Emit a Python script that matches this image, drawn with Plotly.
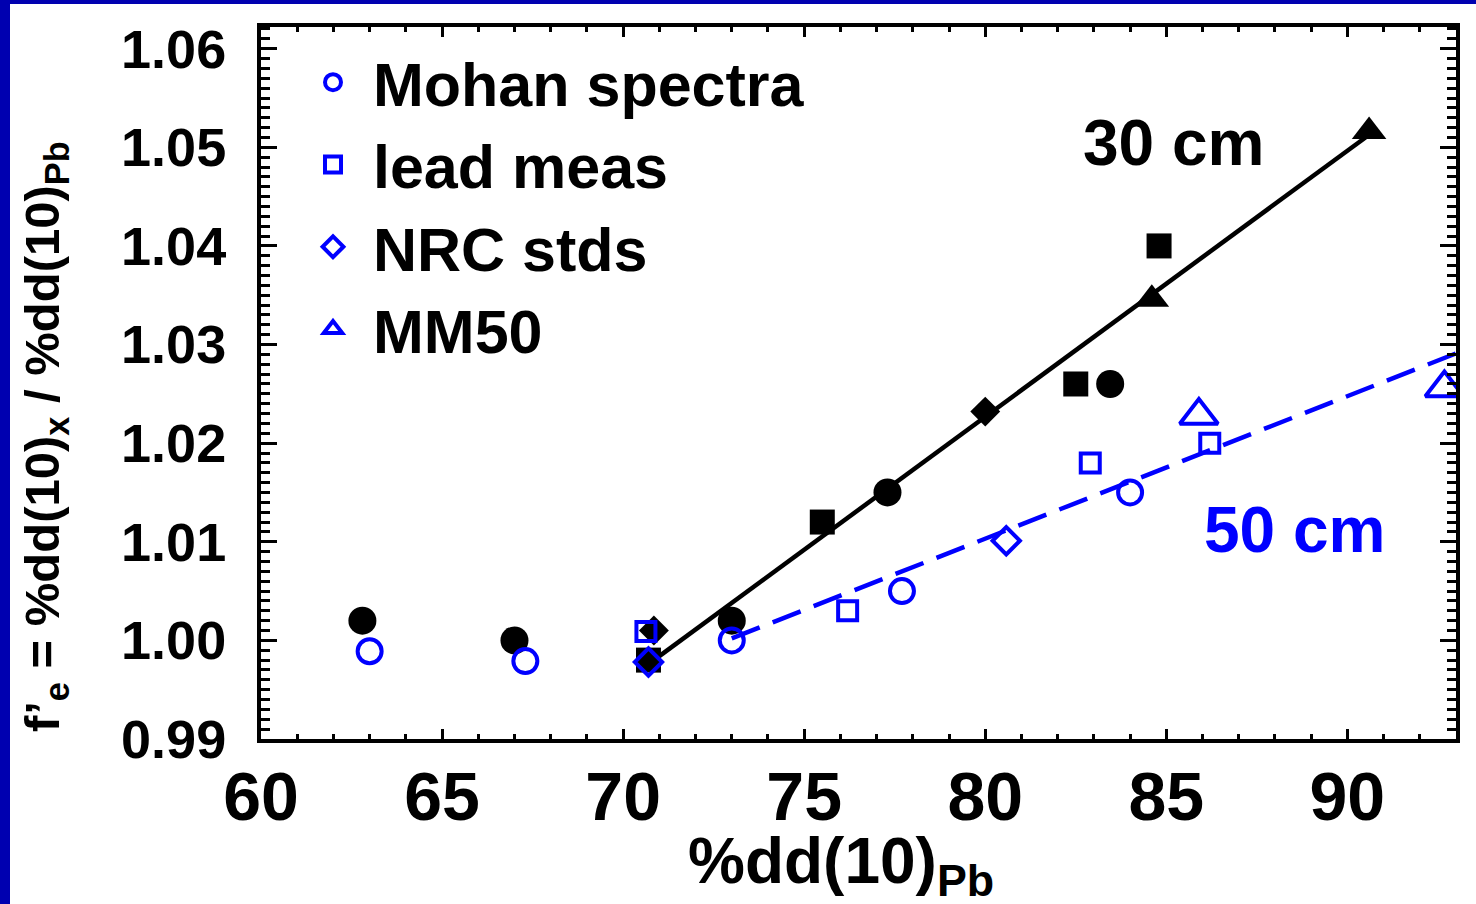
import plotly.graph_objects as go

# ---- data ----
# 30 cm (black, filled)
c30_x = [62.8, 67.0, 73.0, 77.3, 83.45]
c30_y = [1.0020, 1.0000, 1.0020, 1.0150, 1.0260]
s30_x = [70.7, 75.5, 82.5, 84.8]
s30_y = [0.9980, 1.0120, 1.0260, 1.0400]
d30_x = [70.85, 80.0]
d30_y = [1.0010, 1.0232]
t30_x = [84.6, 90.6]
t30_y = [1.0346, 1.0516]
fit30_x = [71.0, 90.5]
fit30_y = [0.9984, 1.0510]

# 50 cm (blue, open)
c50_x = [63.0, 67.3, 73.0, 77.7, 84.0]
c50_y = [0.9989, 0.9979, 1.0000, 1.0050, 1.0150]
s50_x = [70.63, 76.2, 82.9, 86.2]
s50_y = [1.0009, 1.0030, 1.0180, 1.0200]
d50_x = [70.7, 80.58]
d50_y = [0.9978, 1.0101]
t50_x = [85.9, 92.68]
t50_y = [1.0228, 1.0256]
fit50_x = [73.0, 93.0]
fit50_y = [1.0002, 1.0291]

legend_names = ["Mohan spectra", "lead meas", "NRC stds", "MM50"]
x_ticks = [60, 65, 70, 75, 80, 85, 90]
y_ticks = [0.99, 1.00, 1.01, 1.02, 1.03, 1.04, 1.05, 1.06]

FONT = "Liberation Sans, Arial, Helvetica, sans-serif"
BLUE = "#0000FF"
BLACK = "#000000"

fig = go.Figure()

# fit lines
fig.add_trace(go.Scatter(x=fit30_x, y=fit30_y, mode="lines",
                         line=dict(color=BLACK, width=4.5), showlegend=False))
fig.add_trace(go.Scatter(x=fit50_x, y=fit50_y, mode="lines",
                         line=dict(color=BLUE, width=4.5, dash="30px,14px"),
                         showlegend=False))

# black filled markers
fig.add_trace(go.Scatter(x=c30_x, y=c30_y, mode="markers", showlegend=False,
                         marker=dict(symbol="circle", size=28, color=BLACK)))
fig.add_trace(go.Scatter(x=s30_x, y=s30_y, mode="markers", showlegend=False,
                         marker=dict(symbol="square", size=25, color=BLACK)))
fig.add_trace(go.Scatter(x=d30_x, y=d30_y, mode="markers", showlegend=False,
                         marker=dict(symbol="diamond", size=23, color=BLACK)))
fig.add_trace(go.Scatter(x=t30_x, y=t30_y, mode="markers", showlegend=False,
                         marker=dict(symbol="triangle-up", size=30, color=BLACK)))

# blue open markers (legend entries)
open_specs = [
    (c50_x, c50_y, "circle-open", 24),
    (s50_x, s50_y, "square-open", 19),
    (d50_x, d50_y, "diamond-open", 21),
    (t50_x, t50_y, "triangle-up-open", 33),
]
for (xs, ys, sym, sz), name in zip(open_specs, legend_names):
    fig.add_trace(go.Scatter(x=xs, y=ys, mode="markers", name=name,
                             marker=dict(symbol=sym, size=sz, color=BLUE,
                                         line=dict(color=BLUE, width=4))))

# plot area in pixels: x 261..1456, y 27..739
L, R, T, B = 261, 1456, 27, 739
W, H = 1476, 904
pw, ph = R - L, B - T

def px_x(p):
    return (p - L) / pw

def px_y(p):
    return (B - p) / ph

fig.update_layout(
    width=W, height=H,
    margin=dict(l=L, r=W - R, t=T, b=H - B),
    paper_bgcolor="white", plot_bgcolor="white",
    font=dict(family=FONT, color=BLACK),
    legend=dict(x=px_x(293), y=px_y(36), xanchor="left", yanchor="top",
                bgcolor="rgba(0,0,0,0)", borderwidth=0, itemwidth=70,
                font=dict(family=FONT, size=61, color=BLACK, weight="bold"),
                tracegroupgap=0),
    shapes=[
        dict(type="rect", xref="paper", yref="paper",
             x0=px_x(0), x1=px_x(10), y0=px_y(H), y1=px_y(0),
             fillcolor="#0000B0", line=dict(width=0), layer="above"),
        dict(type="rect", xref="paper", yref="paper",
             x0=px_x(0), x1=px_x(W), y0=px_y(4), y1=px_y(0),
             fillcolor="#0000B0", line=dict(width=0), layer="above"),
    ],
    annotations=[
        dict(text="30 cm", x=85.19, y=1.0504, xref="x", yref="y",
             showarrow=False, font=dict(family=FONT, size=64, color=BLACK, weight="bold")),
        dict(text="50 cm", x=88.53, y=1.0112, xref="x", yref="y",
             showarrow=False, font=dict(family=FONT, size=64, color=BLUE, weight="bold")),
        dict(text="%dd(10)<sub>Pb</sub>", x=px_x(841), y=px_y(865), xref="paper", yref="paper",
             xanchor="center", yanchor="middle",
             showarrow=False, font=dict(family=FONT, size=64, color=BLACK, weight="bold")),
        dict(text="f’<sub>e</sub> = %dd(10)<sub>x</sub> / %dd(10)<sub>Pb</sub>",
             x=px_x(45), y=px_y(437), xref="paper", yref="paper", textangle=-90,
             xanchor="center", yanchor="middle",
             showarrow=False, font=dict(family=FONT, size=49, color=BLACK, weight="bold")),
    ],
)

fig.update_xaxes(
    range=[60, 93], tickvals=x_ticks, ticktext=[str(v) for v in x_ticks],
    ticks="inside", ticklen=10, tickwidth=3, tickcolor=BLACK,
    showline=True, linewidth=4, linecolor=BLACK, mirror="ticks",
    showgrid=False, zeroline=False,
    tickfont=dict(family=FONT, size=68, color=BLACK, weight="bold"),
    ticklabelstandoff=-5,
    minor=dict(dtick=1, ticks="inside", ticklen=5, tickwidth=3, tickcolor=BLACK, showgrid=False),
)
fig.update_yaxes(
    range=[0.99, 1.0622], tickvals=y_ticks, ticktext=[f"{v:.2f}" for v in y_ticks],
    ticks="inside", ticklen=16, tickwidth=3, tickcolor=BLACK,
    showline=True, linewidth=4, linecolor=BLACK, mirror="ticks",
    showgrid=False, zeroline=False,
    tickfont=dict(family=FONT, size=54, color=BLACK, weight="bold"),
    ticklabelstandoff=20,
    minor=dict(dtick=0.001, tick0=0.99, ticks="inside", ticklen=9, tickwidth=3, tickcolor=BLACK, showgrid=False),
)

fig.write_html("out.html")
